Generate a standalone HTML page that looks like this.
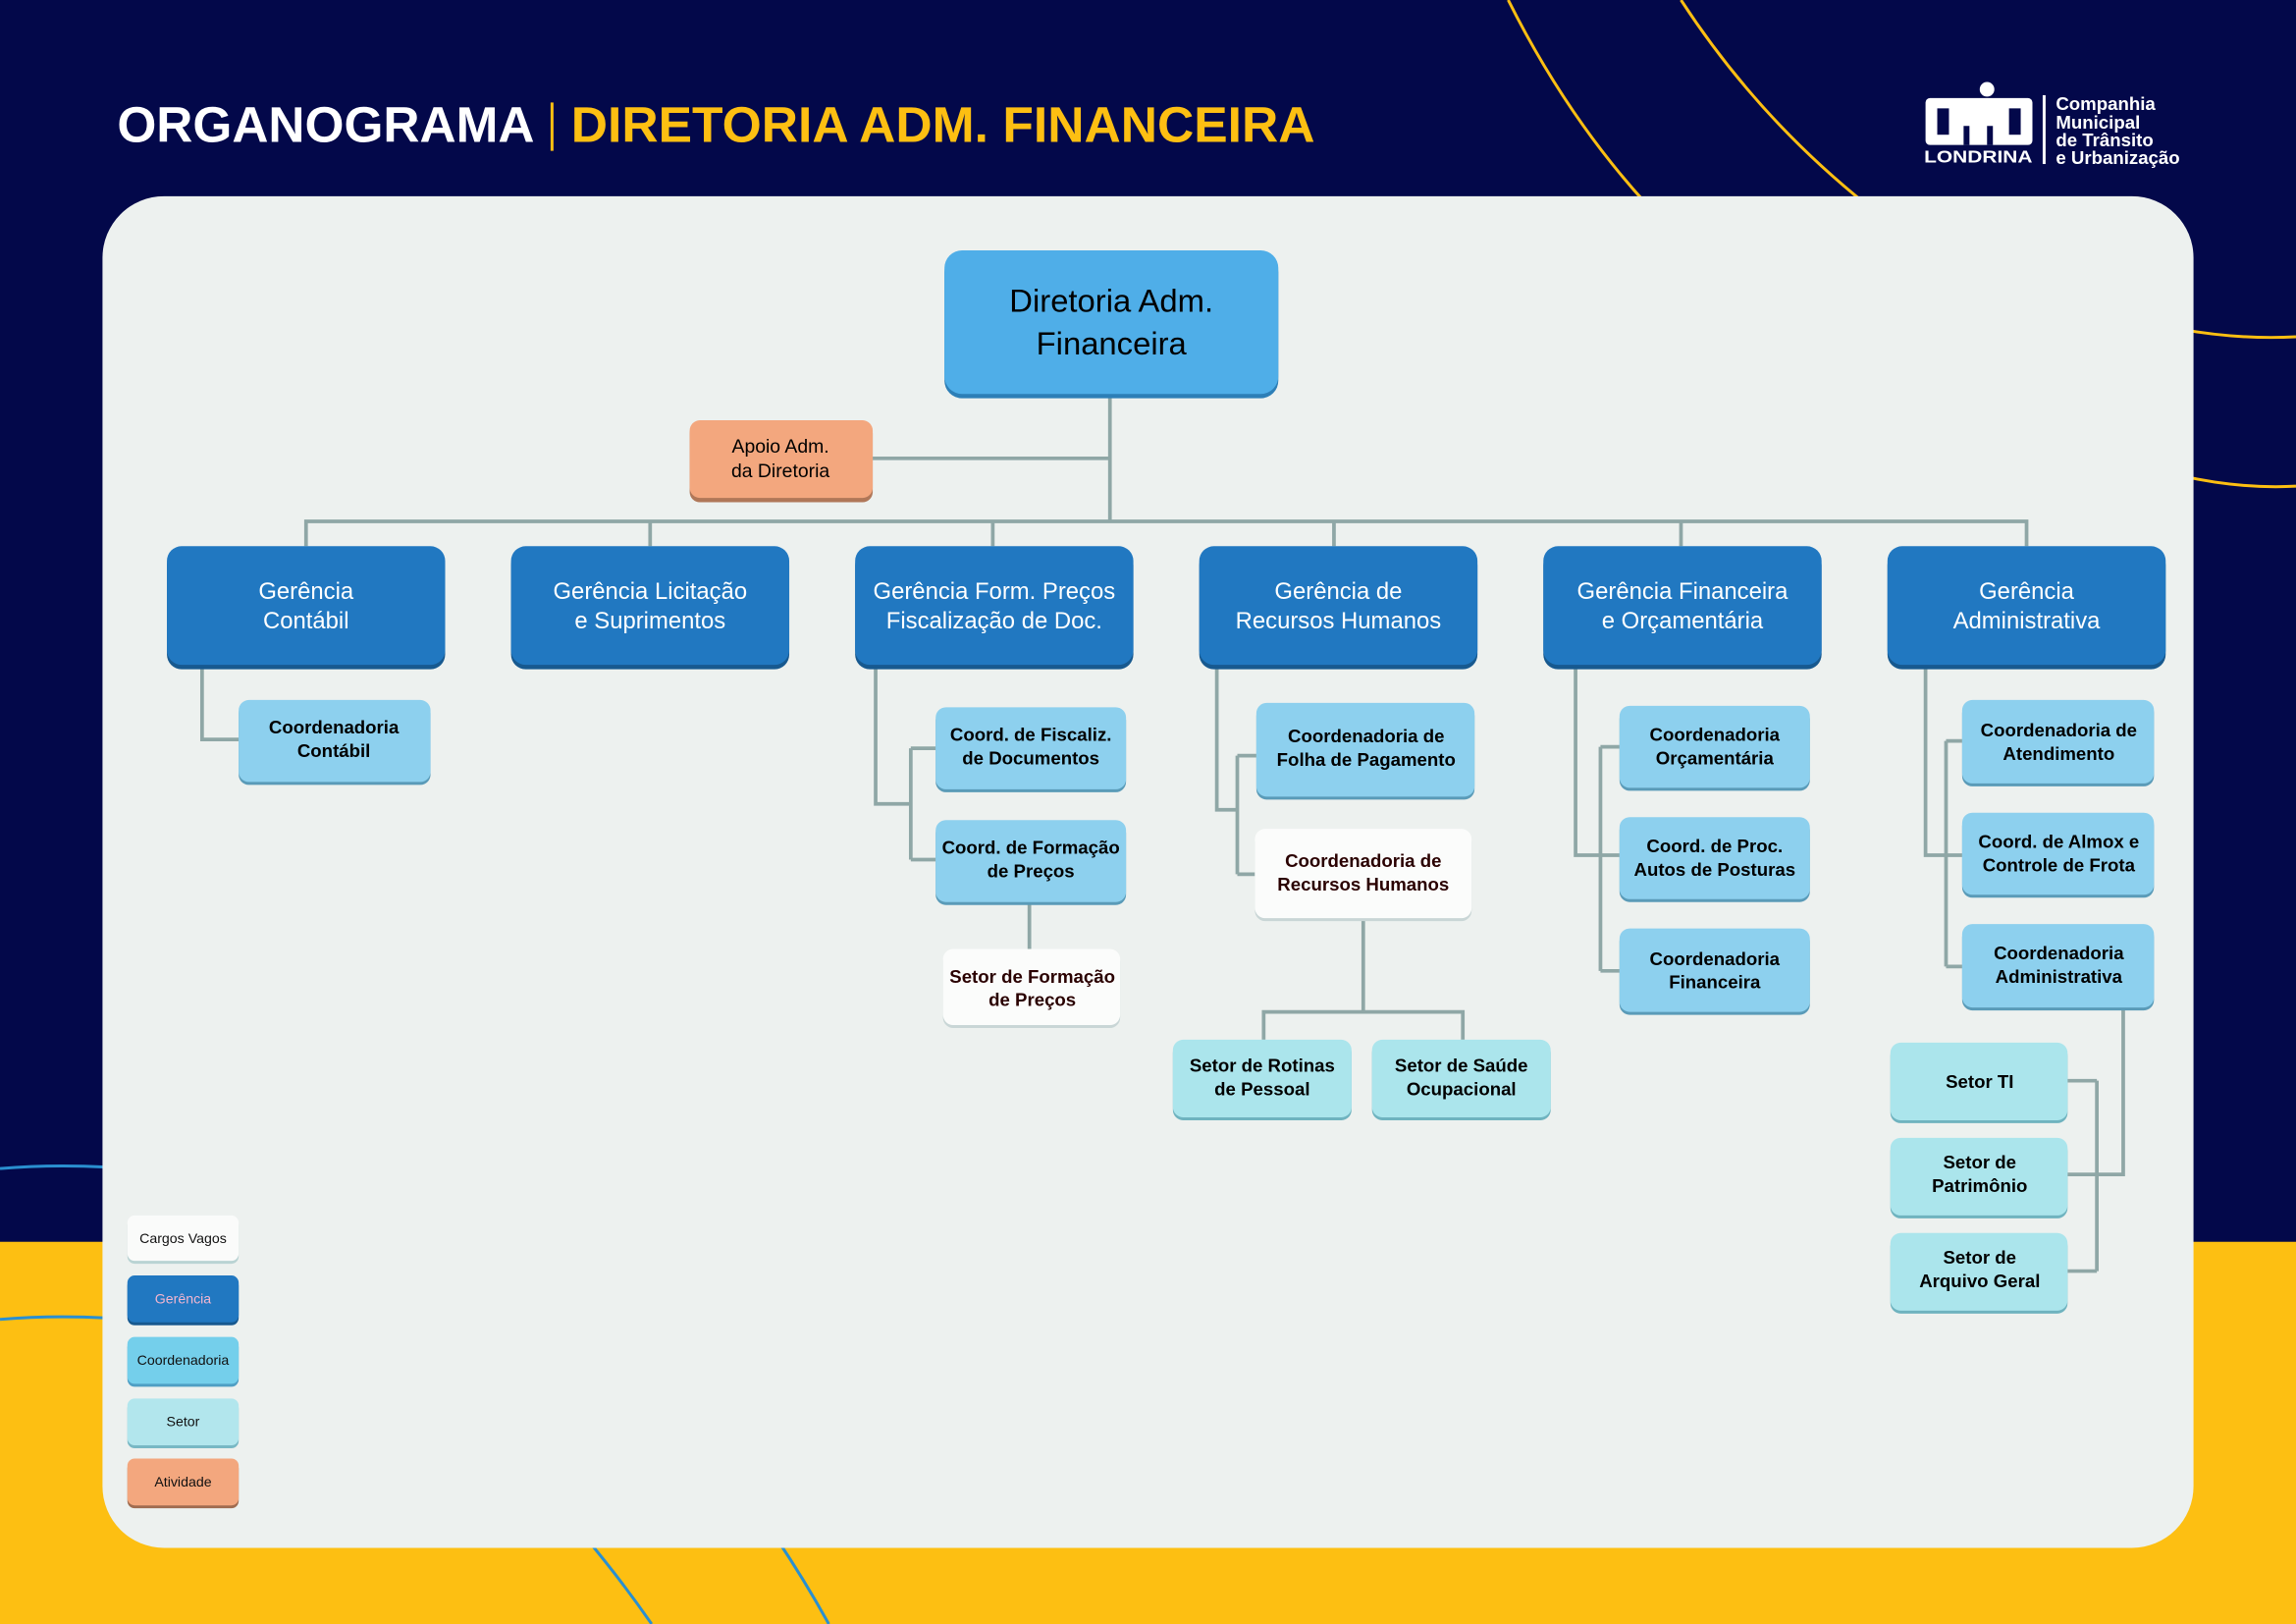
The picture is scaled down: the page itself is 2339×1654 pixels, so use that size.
<!DOCTYPE html>
<html><head><meta charset="utf-8"><style>
html,body{margin:0;padding:0;background:#03084a;overflow:hidden}
svg{display:block}
text{font-family:"Liberation Sans",sans-serif}
</style></head><body>
<svg width="2339" height="1654" viewBox="0 0 1568 1109" preserveAspectRatio="none" xmlns="http://www.w3.org/2000/svg">
<rect x="0" y="0" width="1568" height="1109" fill="#03084a"/>
<rect x="0" y="848" width="1568" height="261" fill="#fdbf12"/>
<g fill="none" stroke="#fdbf12" stroke-width="2">
<path d="M1030 0 Q1070 80 1125 140"/>
<path d="M1148 0 Q1200 80 1275 140"/>
<path d="M1490 225 Q1530 232 1568 230"/>
<path d="M1490 325 Q1530 334 1568 332"/>
</g>
<g fill="none" stroke="#2a8fd0" stroke-width="2">
<path d="M0 798 Q35 795 72 797"/>
<path d="M0 901 Q35 898 72 900"/>
<path d="M400 1050 Q425 1080 445 1109"/>
<path d="M530 1050 Q550 1080 566 1109"/>
</g>
<rect x="70" y="134" width="1428" height="923" rx="42" fill="#edf1ef"/>

<!-- header -->
<text x="80" y="97" font-size="34" font-weight="bold" fill="#ffffff" textLength="285" lengthAdjust="spacingAndGlyphs">ORGANOGRAMA</text>
<rect x="376" y="70" width="2" height="33" fill="#fdbf12"/>
<text x="390" y="97" font-size="34" font-weight="bold" fill="#fdbf12" textLength="508" lengthAdjust="spacingAndGlyphs">DIRETORIA ADM. FINANCEIRA</text>

<!-- logo -->
<g fill="#ffffff">
<circle cx="1357" cy="61" r="5"/>
<rect x="1315" y="67" width="73" height="32" rx="3"/>
<rect x="1323" y="74" width="8" height="18" fill="#03084a"/>
<rect x="1372" y="74" width="8" height="18" fill="#03084a"/>
<rect x="1341" y="86" width="4" height="13" fill="#03084a"/>
<rect x="1357" y="86" width="4" height="13" fill="#03084a"/>
<text x="1314" y="111" font-size="12" font-weight="bold" textLength="74" lengthAdjust="spacingAndGlyphs">LONDRINA</text>
<rect x="1395" y="65" width="2" height="47"/>
<text x="1404" y="75" font-size="12.5" font-weight="bold">Companhia</text>
<text x="1404" y="88" font-size="12.5" font-weight="bold">Municipal</text>
<text x="1404" y="100" font-size="12.5" font-weight="bold">de Trânsito</text>
<text x="1404" y="112" font-size="12.5" font-weight="bold">e Urbanização</text>
</g>

<!-- connectors -->
<g fill="none" stroke="#8fa7a6" stroke-width="2.5">
<path d="M758 270 V356"/>
<path d="M596 313 H758"/>
<path d="M209 373 V356 H1384 V373"/>
<path d="M444 356 V373 M678 356 V373 M911 356 V373 M1148 356 V373"/>
<path d="M138 455 V505 H163"/>
<path d="M598 455 V549 H622 M622 511 V587 M622 511 H639 M622 587 H639"/>
<path d="M703 616 V648"/>
<path d="M831 455 V553 H845 M845 516 V597 M845 516 H858 M845 597 H857"/>
<path d="M931 627 V691 M863 710 V691 H999 V710"/>
<path d="M1076 455 V584 H1093 M1093 510 V663 M1093 510 H1106 M1093 584 H1106 M1093 663 H1106"/>
<path d="M1315 455 V584 H1329 M1329 506 V660 M1329 506 H1340 M1329 584 H1340 M1329 660 H1340"/>
<path d="M1450 688 V802 H1412 M1432 738 V868 M1412 738 H1432 M1412 868 H1432"/>
</g>

<!-- top node -->
<rect x="645" y="174" width="228" height="98" rx="12" fill="#2d7fb7"/>
<rect x="645" y="171" width="228" height="98" rx="12" fill="#4faee8"/>
<text x="759" y="213" font-size="22" text-anchor="middle" fill="#000">Diretoria Adm.</text>
<text x="759" y="242" font-size="22" text-anchor="middle" fill="#000">Financeira</text>

<!-- apoio -->
<rect x="471" y="289" width="125" height="54" rx="7" fill="#b07758"/>
<rect x="471" y="287" width="125" height="53" rx="7" fill="#f3a77e"/>
<text x="533" y="309" font-size="13" text-anchor="middle">Apoio Adm.</text>
<text x="533" y="326" font-size="13" text-anchor="middle">da Diretoria</text>

<!-- gerencias -->
<g fill="#17598f">
<rect x="114" y="376" width="190" height="81" rx="10"/>
<rect x="349" y="376" width="190" height="81" rx="10"/>
<rect x="584" y="376" width="190" height="81" rx="10"/>
<rect x="819" y="376" width="190" height="81" rx="10"/>
<rect x="1054" y="376" width="190" height="81" rx="10"/>
<rect x="1289" y="376" width="190" height="81" rx="10"/>
</g>
<g fill="#2178c1">
<rect x="114" y="373" width="190" height="81" rx="10"/>
<rect x="349" y="373" width="190" height="81" rx="10"/>
<rect x="584" y="373" width="190" height="81" rx="10"/>
<rect x="819" y="373" width="190" height="81" rx="10"/>
<rect x="1054" y="373" width="190" height="81" rx="10"/>
<rect x="1289" y="373" width="190" height="81" rx="10"/>
</g>
<g font-size="16" fill="#ffffff" text-anchor="middle">
<text x="209" y="409">Gerência</text><text x="209" y="429">Contábil</text>
<text x="444" y="409">Gerência Licitação</text><text x="444" y="429">e Suprimentos</text>
<text x="679" y="409">Gerência Form. Preços</text><text x="679" y="429">Fiscalização de Doc.</text>
<text x="914" y="409">Gerência de</text><text x="914" y="429">Recursos Humanos</text>
<text x="1149" y="409">Gerência Financeira</text><text x="1149" y="429">e Orçamentária</text>
<text x="1384" y="409">Gerência</text><text x="1384" y="429">Administrativa</text>
</g>

<!-- coord boxes (shadow + fill) -->
<g fill="#5a9bb8">
<rect x="163" y="480" width="131" height="56" rx="7"/>
<rect x="639" y="485" width="130" height="56" rx="7"/>
<rect x="639" y="562" width="130" height="56" rx="7"/>
<rect x="858" y="482" width="149" height="64" rx="7"/>
<rect x="1106" y="484" width="130" height="56" rx="7"/>
<rect x="1106" y="560" width="130" height="56" rx="7"/>
<rect x="1106" y="636" width="130" height="57" rx="7"/>
<rect x="1340" y="480" width="131" height="57" rx="7"/>
<rect x="1340" y="557" width="131" height="56" rx="7"/>
<rect x="1340" y="633" width="131" height="57" rx="7"/>
</g>
<g fill="#8dd0ee">
<rect x="163" y="478" width="131" height="56" rx="7"/>
<rect x="639" y="483" width="130" height="56" rx="7"/>
<rect x="639" y="560" width="130" height="56" rx="7"/>
<rect x="858" y="480" width="149" height="64" rx="7"/>
<rect x="1106" y="482" width="130" height="56" rx="7"/>
<rect x="1106" y="558" width="130" height="56" rx="7"/>
<rect x="1106" y="634" width="130" height="57" rx="7"/>
<rect x="1340" y="478" width="131" height="57" rx="7"/>
<rect x="1340" y="555" width="131" height="56" rx="7"/>
<rect x="1340" y="631" width="131" height="57" rx="7"/>
</g>
<!-- vacant -->
<g fill="#c9d6d6">
<rect x="644" y="650" width="121" height="52" rx="7"/>
<rect x="857" y="568" width="148" height="61" rx="7"/>
</g>
<g fill="#fbfcfb">
<rect x="644" y="648" width="121" height="52" rx="7"/>
<rect x="857" y="566" width="148" height="61" rx="7"/>
</g>
<!-- setor -->
<g fill="#6fb3bf">
<rect x="801" y="712" width="122" height="53" rx="7"/>
<rect x="937" y="712" width="122" height="53" rx="7"/>
<rect x="1291" y="714" width="121" height="53" rx="7"/>
<rect x="1291" y="779" width="121" height="53" rx="7"/>
<rect x="1291" y="844" width="121" height="53" rx="7"/>
</g>
<g fill="#abe5ec">
<rect x="801" y="710" width="122" height="53" rx="7"/>
<rect x="937" y="710" width="122" height="53" rx="7"/>
<rect x="1291" y="712" width="121" height="53" rx="7"/>
<rect x="1291" y="777" width="121" height="53" rx="7"/>
<rect x="1291" y="842" width="121" height="53" rx="7"/>
</g>

<g font-size="12.5" font-weight="bold" fill="#000" text-anchor="middle">
<text x="228" y="501">Coordenadoria</text><text x="228" y="517">Contábil</text>
<text x="704" y="506">Coord. de Fiscaliz.</text><text x="704" y="522">de Documentos</text>
<text x="704" y="583">Coord. de Formação</text><text x="704" y="599">de Preços</text>
<text x="705" y="671" fill="#2a0000">Setor de Formação</text><text x="705" y="687" fill="#2a0000">de Preços</text>
<text x="933" y="507">Coordenadoria de</text><text x="933" y="523">Folha de Pagamento</text>
<text x="931" y="592" fill="#2a0000">Coordenadoria de</text><text x="931" y="608" fill="#2a0000">Recursos Humanos</text>
<text x="862" y="732">Setor de Rotinas</text><text x="862" y="748">de Pessoal</text>
<text x="998" y="732">Setor de Saúde</text><text x="998" y="748">Ocupacional</text>
<text x="1171" y="506">Coordenadoria</text><text x="1171" y="522">Orçamentária</text>
<text x="1171" y="582">Coord. de Proc.</text><text x="1171" y="598">Autos de Posturas</text>
<text x="1171" y="659">Coordenadoria</text><text x="1171" y="675">Financeira</text>
<text x="1406" y="503">Coordenadoria de</text><text x="1406" y="519">Atendimento</text>
<text x="1406" y="579">Coord. de Almox e</text><text x="1406" y="595">Controle de Frota</text>
<text x="1406" y="655">Coordenadoria</text><text x="1406" y="671">Administrativa</text>
<text x="1352" y="743">Setor TI</text>
<text x="1352" y="798">Setor de</text><text x="1352" y="814">Patrimônio</text>
<text x="1352" y="863">Setor de</text><text x="1352" y="879">Arquivo Geral</text>
</g>

<!-- legend -->
<rect x="87" y="832" width="76" height="31" rx="5" fill="#b9d3d3"/>
<rect x="87" y="830" width="76" height="31" rx="5" fill="#fafbfa"/>
<rect x="87" y="873" width="76" height="32" rx="5" fill="#17598f"/>
<rect x="87" y="871" width="76" height="32" rx="5" fill="#2178c1"/>
<rect x="87" y="915" width="76" height="32" rx="5" fill="#4f9fc4"/>
<rect x="87" y="913" width="76" height="32" rx="5" fill="#74cfeb"/>
<rect x="87" y="957" width="76" height="32" rx="5" fill="#78b8c4"/>
<rect x="87" y="955" width="76" height="32" rx="5" fill="#b2e6ed"/>
<rect x="87" y="998" width="76" height="32" rx="5" fill="#a06c50"/>
<rect x="87" y="996" width="76" height="32" rx="5" fill="#f3a77e"/>
<g font-size="9.5" text-anchor="middle" fill="#111">
<text x="125" y="849">Cargos Vagos</text>
<text x="125" y="890" fill="#f2b6d0">Gerência</text>
<text x="125" y="932">Coordenadoria</text>
<text x="125" y="974">Setor</text>
<text x="125" y="1015">Atividade</text>
</g>
</svg>
</body></html>
